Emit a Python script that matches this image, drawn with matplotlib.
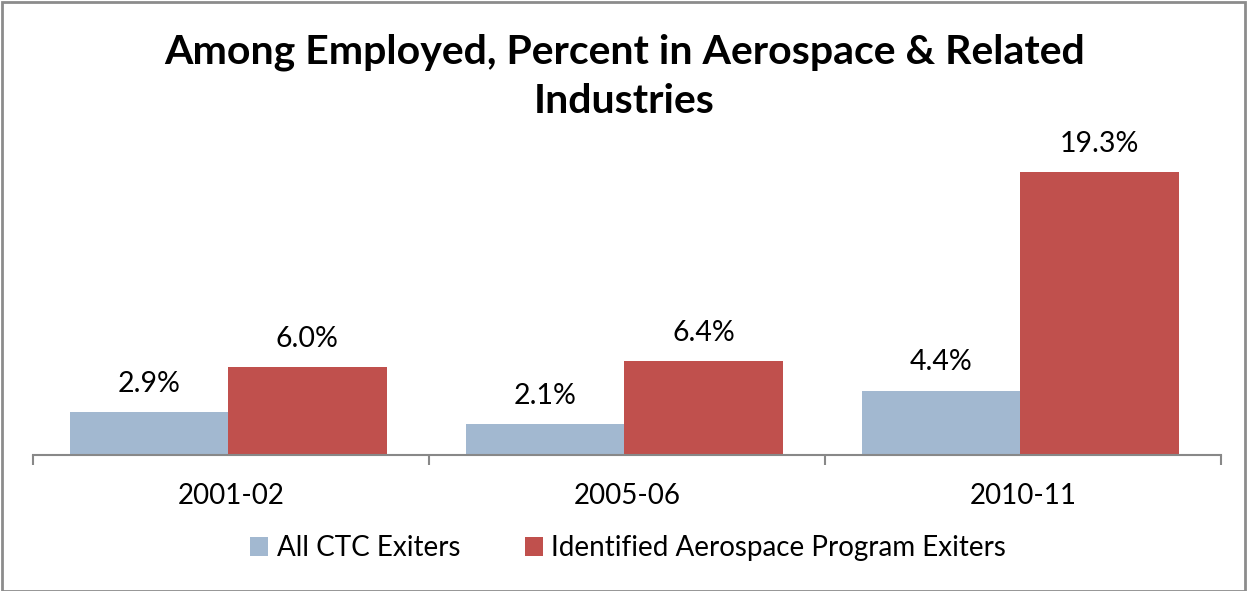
import matplotlib
matplotlib.use('Agg')
import matplotlib.pyplot as plt
from matplotlib.patches import Rectangle
import numpy as np

plt.rcParams['font.family'] = ['Lato', 'DejaVu Sans']

years = ['2001-02', '2005-06', '2010-11']
series_names = ['All CTC Exiters', 'Identified Aerospace Program Exiters']
all_ctc = [2.9, 2.1, 4.4]
aerospace = [6.0, 6.4, 19.3]
colors = ['#A2B8D0', '#C0504D']

fig = plt.figure(figsize=(12.49, 5.91), dpi=100)
ax = fig.add_axes([0.0264, 0.2301, 0.9512, 0.5457])

x = np.arange(len(years))
width = 0.4
bars1 = ax.bar(x - width / 2 - 0.007, all_ctc, width, color=colors[0], label=series_names[0])
bars2 = ax.bar(x + width / 2 - 0.007, aerospace, width, color=colors[1], label=series_names[1])

for bars, vals in ((bars1, all_ctc), (bars2, aerospace)):
    for b, v in zip(bars, vals):
        ax.annotate(f'{v:.1f}%', (b.get_x() + b.get_width() / 2, v),
                    xytext=(0, 14.5), textcoords='offset points',
                    ha='center', va='baseline', fontsize=20.5)

ax.set_xlim(-0.5, 2.5)
ax.set_ylim(0, 22)

for s in ('top', 'right', 'left'):
    ax.spines[s].set_visible(False)
ax.spines['bottom'].set_color('#888888')
ax.spines['bottom'].set_linewidth(1.5)
ax.set_yticks([])

# category boundaries carry the tick marks, names sit between them
ax.set_xticks([-0.5, 0.5, 1.5, 2.5])
ax.set_xticklabels([])
ax.tick_params(axis='x', direction='out', length=7, width=1.5, color='#888888')
ax.set_xticks(x, minor=True)
ax.set_xticklabels(years, minor=True, fontsize=20)
ax.tick_params(axis='x', which='minor', length=0, pad=20)

fig.suptitle('Among Employed, Percent in Aerospace & Related\nIndustries',
             x=0.5, y=0.944, fontsize=29.5, fontweight='bold', linespacing=1.42)

fig.legend(handles=[bars1, bars2], labels=series_names, loc='center',
           bbox_to_anchor=(0.503, 0.072), ncol=2, frameon=False, fontsize=20,
           handlelength=0.65, handleheight=0.65, handletextpad=0.32, columnspacing=2.3)

fig.patches.append(Rectangle((0.002, 0.0), 0.995, 0.996, transform=fig.transFigure,
                             fill=False, edgecolor='#8c8c8c', linewidth=2))

fig.savefig('out.png', dpi=100)
